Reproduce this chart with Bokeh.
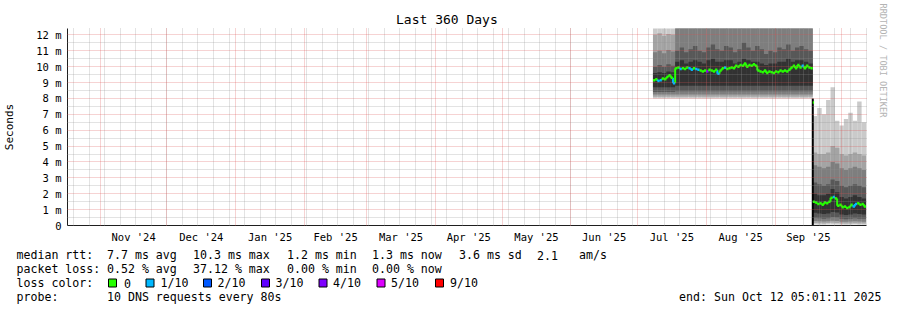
import math
import pandas as pd
from bokeh.plotting import figure
from bokeh.layouts import column
from bokeh.models import (ColumnDataSource, Range1d, FixedTicker, Grid, Title,
                          DatetimeTickFormatter)
from bokeh.embed import file_html
from bokeh.resources import INLINE
from bokeh.core.properties import value

# ---------------- data ----------------
graph_start = "2024-10-17 05:01:11"
graph_end = "2025-10-12 05:01:11"
title_text = "Last 360 Days"
y_axis_label = "Seconds"
y_max_ms = 12.4
y_ticks = [0, 1, 2, 3, 4, 5, 6, 7, 8, 9, 10, 11, 12]
y_tick_labels = ["0", "1 m", "2 m", "3 m", "4 m", "5 m", "6 m", "7 m", "8 m",
                 "9 m", "10 m", "11 m", "12 m"]
y_minor_ticks = [0.5, 1.5, 2.5, 3.5, 4.5, 5.5, 6.5, 7.5, 8.5, 9.5, 10.5, 11.5]
month_starts = ["2024-11-01", "2024-12-01", "2025-01-01", "2025-02-01", "2025-03-01",
                "2025-04-01", "2025-05-01", "2025-06-01", "2025-07-01", "2025-08-01",
                "2025-09-01", "2025-10-01"]
month_tick_labels = ["Nov '24", "Dec '24", "Jan '25", "Feb '25", "Mar '25", "Apr '25",
                     "May '25", "Jun '25", "Jul '25", "Aug '25", "Sep '25"]
first_week_line = "2024-10-20"   # weekly minor grid (Sundays)

# smoke: 10 sorted pings per 2-day bin (ms), first bin 2025-07-08
smoke_first_bin = "2025-07-08"
ping_1 = [8.0, 8.0, 8.0, 8.0, 8.0,
          8.0, 8.0, 8.0, 8.0, 8.0, 8.0, 8.0, 8.0, 8.0, 8.0, 8.0, 8.0, 8.0, 8.0, 8.0, 8.0,
          8.0, 8.0, 8.0, 8.0, 8.0, 8.0, 8.0, 8.0, 8.0, 8.0, 8.0, 8.0, 8.0, 8.0, 8.0,
          0.06, 0.05, 0.05, 0.06, 0.07, 0.06, 0.05, 0.05, 0.05, 0.06, 0.05, 0.05]
ping_2 = [8.1, 8.1, 8.1, 8.1, 8.1,
          8.1, 8.1, 8.1, 8.1, 8.1, 8.1, 8.1, 8.1, 8.1, 8.1, 8.1, 8.1, 8.1, 8.1, 8.1, 8.1,
          8.1, 8.1, 8.1, 8.1, 8.1, 8.1, 8.1, 8.1, 8.1, 8.1, 8.1, 8.1, 8.1, 8.1, 8.1,
          0.15, 0.14, 0.13, 0.15, 0.17, 0.16, 0.13, 0.12, 0.13, 0.14, 0.13, 0.12]
ping_3 = [8.25, 8.25, 8.25, 8.25, 8.25,
          8.25, 8.25, 8.25, 8.25, 8.25, 8.25, 8.25, 8.25, 8.25, 8.25, 8.25, 8.25, 8.25,
          8.25, 8.25, 8.25, 8.25, 8.25, 8.25, 8.25, 8.25, 8.25, 8.25, 8.25, 8.25, 8.25,
          8.25, 8.25, 8.25, 8.25, 8.25,
          0.28, 0.26, 0.25, 0.27, 0.30, 0.28, 0.24, 0.23, 0.25, 0.26, 0.25, 0.24]
ping_4 = [8.4, 8.4, 8.4, 8.4, 8.4,
          8.45, 8.45, 8.45, 8.45, 8.45, 8.45, 8.45, 8.45, 8.45, 8.45, 8.45, 8.45, 8.45,
          8.45, 8.45, 8.45, 8.45, 8.45, 8.45, 8.45, 8.45, 8.45, 8.45, 8.45, 8.45, 8.45,
          8.45, 8.45, 8.45, 8.45, 8.45,
          0.48, 0.45, 0.43, 0.46, 0.52, 0.50, 0.42, 0.40, 0.43, 0.45, 0.43, 0.42]
ping_5 = [8.7, 8.7, 8.7, 8.7, 8.7,
          8.8, 8.8, 8.8, 8.8, 8.8, 8.8, 8.8, 8.8, 8.8, 8.8, 8.8, 8.8, 8.8, 8.8, 8.8, 8.8,
          8.8, 8.8, 8.8, 8.8, 8.8, 8.8, 8.8, 8.8, 8.8, 8.8, 8.8, 8.8, 8.8, 8.8, 8.8,
          0.80, 0.75, 0.72, 0.76, 0.85, 0.82, 0.70, 0.66, 0.70, 0.75, 0.72, 0.70]
ping_6 = [9.6, 9.65, 9.6, 9.7, 9.65,
          10.3, 10.4, 10.2, 10.3, 10.4, 10.3, 10.2, 10.4, 10.5, 10.3, 10.3, 10.4, 10.4,
          10.2, 10.3, 10.5, 10.4, 10.3, 10.3, 10.2, 10.1, 10.2, 10.2, 10.3, 10.3, 10.5,
          10.3, 10.4, 10.4, 10.3, 10.2,
          2.0, 1.9, 1.9, 2.0, 2.3, 2.1, 1.8, 1.7, 1.8, 1.9, 1.8, 1.7]
ping_7 = [10.0, 10.1, 10.0, 10.15, 10.05,
          11.0, 11.2, 10.9, 11.1, 11.3, 11.0, 10.9, 11.2, 11.4, 11.1, 11.0, 11.3, 11.2,
          10.9, 11.1, 11.5, 11.2, 11.0, 11.3, 11.1, 10.8, 11.0, 10.9, 11.2, 11.1, 11.4,
          11.0, 11.2, 11.3, 11.1, 11.0,
          2.7, 2.6, 2.5, 2.6, 2.9, 2.8, 2.5, 2.4, 2.5, 2.6, 2.5, 2.4]
ping_8 = [10.9, 11.0, 10.85, 11.05, 10.95,
          13.0, 13.0, 13.0, 13.0, 13.0, 13.0, 13.0, 13.0, 13.0, 13.0, 13.0, 13.0, 13.0,
          13.0, 13.0, 13.0, 13.0, 13.0, 13.0, 13.0, 13.0, 13.0, 13.0, 13.0, 13.0, 13.0,
          13.0, 13.0, 13.0, 13.0, 13.0,
          3.8, 3.7, 3.6, 3.7, 4.0, 3.9, 3.6, 3.5, 3.6, 3.7, 3.6, 3.5]
ping_9 = [12.0, 12.1, 11.95, 12.05, 12.0,
          13.6, 13.6, 13.6, 13.6, 13.6, 13.6, 13.6, 13.6, 13.6, 13.6, 13.6, 13.6, 13.6,
          13.6, 13.6, 13.6, 13.6, 13.6, 13.6, 13.6, 13.6, 13.6, 13.6, 13.6, 13.6, 13.6,
          13.6, 13.6, 13.6, 13.6, 13.6,
          4.6, 4.5, 4.5, 4.6, 5.0, 4.9, 4.5, 4.4, 4.5, 4.6, 4.5, 4.4]
ping_10 = [13.5, 13.5, 13.5, 13.5, 13.5,
           14.2, 14.2, 14.2, 14.2, 14.2, 14.2, 14.2, 14.2, 14.2, 14.2, 14.2, 14.2, 14.2,
           14.2, 14.2, 14.2, 14.2, 14.2, 14.2, 14.2, 14.2, 14.2, 14.2, 14.2, 14.2, 14.2,
           14.2, 14.2, 14.2, 14.2, 14.2,
           6.9, 7.4, 7.0, 7.9, 8.7, 6.6, 6.3, 6.7, 7.1, 6.6, 7.8, 6.5]

# daily median rtt (ms) and packet loss (lost pings out of 10)
median_summer_first_day = "2025-07-08"
median_summer = [9.15, 9.2, 9.1, 9.15, 9.25, 9.2, 9.35, 9.45, 9.3, 8.95,
                 9.9, 9.95, 9.85, 9.9, 9.85, 9.95, 9.9, 9.8, 9.9, 9.85, 9.8, 9.75, 9.7, 9.75,
                 9.7, 9.8, 9.75, 9.7, 9.8, 9.55, 9.75, 9.9, 9.95, 9.85, 9.9, 9.95, 9.9, 10.05,
                 10.0, 10.1, 10.05, 10.2, 10.0, 10.1, 10.05, 10.15, 10.05, 9.75, 9.7, 9.65,
                 9.75, 9.6, 9.7, 9.65, 9.6,
                 9.7, 9.65, 9.75, 9.7, 9.75, 9.7, 9.8, 9.95, 10.05, 9.9, 10.1, 9.95, 10.05,
                 9.9, 10.05, 9.95, 9.9]
loss_summer = [0, 0, 1, 1, 0, 0, 0, 0, 0, 1,
               0, 0, 1, 0, 0, 0, 1, 1, 0, 1, 1, 0, 0, 0,
               4, 0, 0, 0, 0, 1, 0, 0, 1, 0, 0, 0, 0, 0,
               0, 0, 0, 0, 0, 0, 0, 0, 0, 0, 0, 0,
               0, 0, 0, 0, 0,
               0, 0, 0, 0, 0, 0, 0, 0, 0, 0, 0, 0, 1,
               0, 0, 0, 0]
median_autumn_first_day = "2025-09-18"
median_autumn = [1.5, 1.45, 1.35, 1.4, 1.3, 1.45, 1.4, 1.5, 1.75, 1.8, 1.7, 1.25,
                 1.3, 1.15, 1.2, 1.1, 1.15, 1.3, 1.2, 1.35, 1.4, 1.3, 1.35, 1.2]
loss_autumn = [0, 0, 0, 0, 0, 0, 0, 0, 0, 1, 0, 0,
               0, 0, 0, 0, 0, 0, 1, 1, 0, 0, 0, 0]
transition_time = "2025-09-18"
transition_low, transition_high, transition_median = 0.0, 8.0, 7.75

smoke_colors = ["#cacaca", "#a4a4a4", "#7e7e7e", "#585858", "#323232"]
loss_levels = [0, 1, 2, 3, 4, 5, 9]
loss_legend = ["0", "1/10", "2/10", "3/10", "4/10", "5/10", "9/10"]
loss_colors = ["#26ff00", "#00b8ff", "#0059ff", "#5e00ff", "#7e00ff", "#dd00ff", "#ff0000"]

rtt_stats = ["7.7 ms avg", "10.3 ms max", "1.2 ms min", "1.3 ms now", "3.6 ms sd", "2.1", "am/s"]
loss_stats = ["0.52 % avg", "37.12 % max", "0.00 % min", "0.00 % now"]
probe_text = "10 DNS requests every 80s"
end_text = "end: Sun Oct 12 05:01:11 2025"
watermark = "RRDTOOL / TOBI OETIKER"

# ---------------- main chart ----------------
FONT = "DejaVu Sans Mono"
FL, FT, FR, FB = 66, 28, 866, 228
W, H = 897, 310
HM = 245          # height of the chart part; legend below

t0 = pd.Timestamp(graph_start)
t1 = pd.Timestamp(graph_end)
def ms(t):
    return pd.Timestamp(t).value // 10**6

p = figure(width=W, height=HM, x_axis_type="datetime",
           x_range=Range1d(t0, t1), y_range=Range1d(0, y_max_ms),
           min_border_left=FL, min_border_right=W - FR, min_border_top=FT,
           min_border_bottom=HM - FB, toolbar_location=None, output_backend="svg",
           outline_line_color=None, background_fill_color="white",
           border_fill_color="white")
p.xgrid.visible = False
p.ygrid.visible = False

# title (left edge of the text at x=396 on the page)
p.title.text = title_text
p.title.align = "left"
p.title.offset = 328.5
p.title.text_font = FONT
p.title.text_font_size = "13px"
p.title.text_font_style = "normal"
p.title.text_color = "black"
p.title.standoff = 3

# watermark on the right side
p.add_layout(Title(text=watermark, align="left", offset=-25, vertical_align="top",
                   text_font=FONT, text_font_size="8.6px", text_font_style="normal",
                   text_color="#b4b4b4", standoff=19), "right")

# smoke bands
n_bins = len(ping_1)
bin_left = pd.date_range(smoke_first_bin, periods=n_bins, freq="2D")
bin_right = [min(b + pd.Timedelta(days=2), t1) for b in bin_left]
pings = [ping_1, ping_2, ping_3, ping_4, ping_5, ping_6, ping_7, ping_8, ping_9, ping_10]
for k in range(5):
    src = ColumnDataSource(dict(left=list(bin_left), right=bin_right,
                                bottom=pings[k], top=pings[9 - k]))
    p.quad(left="left", right="right", bottom="bottom", top="top", source=src,
           fill_color=smoke_colors[k], line_color=None)

# transition rule
tt = pd.Timestamp(transition_time)
p.segment(x0=[tt], x1=[tt], y0=[transition_low], y1=[transition_high],
          line_color="black", line_width=2)

# median line
cmap = dict(zip(loss_levels, loss_colors))
def draw_median(first_day, med, loss):
    days = pd.date_range(first_day, periods=len(med), freq="D")
    ends = [min(d + pd.Timedelta(days=1), t1) for d in days]
    vx, vy0, vy1, vc = [], [], [], []
    for i in range(1, len(med)):
        vx.append(days[i]); vy0.append(med[i - 1]); vy1.append(med[i]); vc.append(cmap[loss[i]])
    p.segment(x0=vx, x1=vx, y0=vy0, y1=vy1, line_color=vc, line_width=2)
    p.segment(x0=list(days), x1=ends, y0=med, y1=med,
              line_color=[cmap[v] for v in loss], line_width=2.5)

draw_median(median_summer_first_day, median_summer, loss_summer)
draw_median(median_autumn_first_day, median_autumn, loss_autumn)
p.segment(x0=[tt], x1=[tt + pd.Timedelta(hours=14)], y0=[transition_median],
          y1=[transition_median], line_color=loss_colors[0], line_width=2.5)

# grids drawn over the data like rrdtool
week_lines = [ms(d) for d in pd.date_range(first_week_line, t1, freq="7D")]
month_lines = [ms(d) for d in month_starts]
def add_grid(dim, ticks, color, alpha):
    g = Grid(dimension=dim, ticker=FixedTicker(ticks=ticks, minor_ticks=[]),
             grid_line_color=color, grid_line_alpha=alpha, grid_line_dash="1 1",
             grid_line_width=1, level="guide")
    p.add_layout(g)
add_grid(0, week_lines, "#8f8f8f", 0.5)
add_grid(1, y_minor_ticks, "#8f8f8f", 0.5)
add_grid(0, month_lines, "#de4f4f", 0.5)
add_grid(1, y_ticks[1:], "#de4f4f", 0.5)

# axes
mids = []
for i, lab in enumerate(month_tick_labels):
    a = pd.Timestamp(month_starts[i]); b = pd.Timestamp(month_starts[i + 1])
    mids.append(ms(a + (b - a) / 2))
xa = p.xaxis[0]
xa.ticker = FixedTicker(ticks=mids, minor_ticks=[])
xa.formatter = DatetimeTickFormatter(months="%b '%y", days="%b '%y", years="%b '%y")
xa.major_label_overrides = {int(m): lab for m, lab in zip(mids, month_tick_labels)}
ya = p.yaxis[0]
ya.ticker = FixedTicker(ticks=y_ticks, minor_ticks=[])
ya.major_label_overrides = {t: lab for t, lab in zip(y_ticks, y_tick_labels)}
ya.axis_label = y_axis_label
ya.axis_label_text_font = FONT
ya.axis_label_text_font_size = "11px"
ya.axis_label_text_font_style = "normal"
ya.axis_label_text_color = "black"
ya.axis_label_standoff = 17
for ax in (xa, ya):
    ax.axis_line_color = "#1f1f1f"
    ax.axis_line_width = 1
    ax.major_tick_line_color = None
    ax.minor_tick_line_color = None
    ax.major_tick_out = 0
    ax.major_tick_in = 0
    ax.major_label_text_font = FONT
    ax.major_label_text_font_size = "10.5px"
    ax.major_label_text_color = "black"
xa.major_label_standoff = 5
ya.major_label_standoff = 6

# ---------------- legend part ----------------
HL = H - HM
lg = figure(width=W, height=HL, x_range=Range1d(0, W), y_range=Range1d(H, HM),
            min_border=0, min_border_left=0, min_border_right=0, min_border_top=0,
            min_border_bottom=0, toolbar_location=None, output_backend="svg",
            outline_line_color=None, x_axis_location=None, y_axis_location=None,
            background_fill_color="white", border_fill_color="white")
lg.xgrid.visible = False
lg.ygrid.visible = False
for fig in (p, lg):
    try:
        fig.frame_align = False
    except Exception:
        pass

row_y = [254.5, 268.5, 282.5, 296.5]
tx, ty, tt_, ta = [], [], [], []
def put(s, x, y, align="left"):
    tx.append(x); ty.append(y); tt_.append(s); ta.append(align)
put("median rtt:", 16, row_y[0])
for s, x in zip(rtt_stats, [106.5, 192.5, 286.5, 371.5, 458.5, 536.5, 578.5]):
    put(s, x, row_y[0])
put("packet loss:", 16, row_y[1])
for s, x in zip(loss_stats, [106.5, 192.5, 286.5, 371.5]):
    put(s, x, row_y[1])
put("loss color:", 16, row_y[2])
sw_x = [108, 145.5, 203, 261, 318.5, 376.5, 435]
lab_x = [123.5, 160, 217, 275, 332.5, 390.5, 449.5]
for lab, lx in zip(loss_legend, lab_x):
    put(lab, lx, row_y[2])
put("probe:", 16, row_y[3])
put(probe_text, 106.5, row_y[3])
put(end_text, 881, row_y[3], "right")
lg.text(x=tx, y=ty, text=tt_, text_align=ta, text_baseline="middle",
        text_font=value(FONT), text_font_size=value("11.6px"), text_color="black")
lg.quad(left=sw_x, right=[s + 8 for s in sw_x],
        top=[row_y[2] - 4] * len(sw_x), bottom=[row_y[2] + 4] * len(sw_x),
        fill_color=loss_colors, line_color="black", line_width=1)

open("out.html", "w").write(file_html(column(p, lg, spacing=0), INLINE))
